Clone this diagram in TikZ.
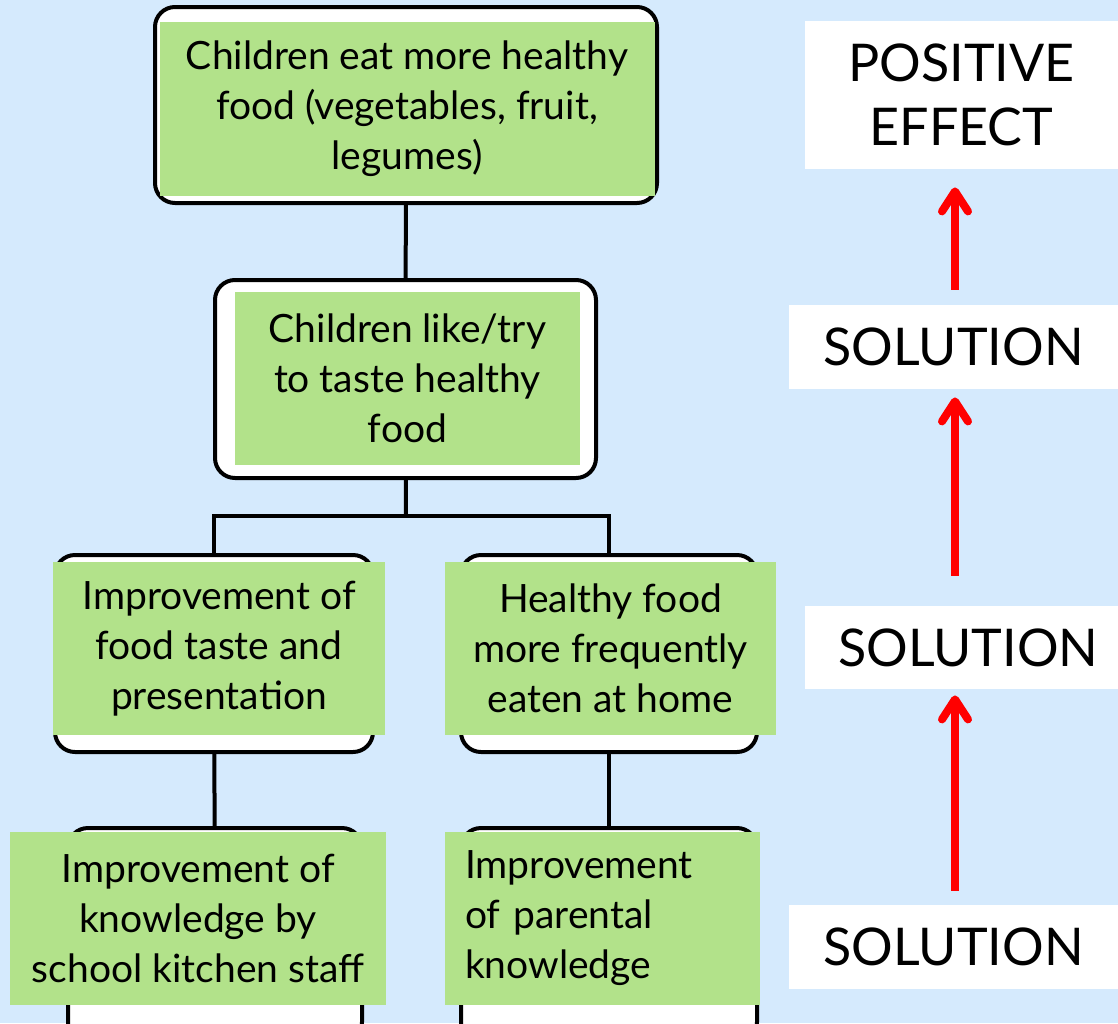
\documentclass[tikz,border=0pt]{standalone}
\usepackage{fontspec}
\setmainfont{Lato}
\usepackage{xcolor}
\usetikzlibrary{arrows.meta}

\definecolor{skyback}{HTML}{D5EAFD}
\definecolor{leafgreen}{HTML}{B2E28A}
\definecolor{arrowred}{HTML}{FF0000}

\tikzset{
  frame/.style={draw, line width=2pt, rounded corners=10pt, fill=white, inner sep=0pt},
  greenbox/.style={fill=leafgreen, inner sep=0pt, align=center,
    font=\fontsize{19.5}{25}\selectfont},
  label/.style={fill=white, inner sep=0pt, align=center,
    font=\fontsize{26}{32}\selectfont},
  link/.style={draw, line width=2pt},
  uparrow/.style={draw=arrowred, line width=4pt,
    -{Straight Barb[round, length=10pt, width=13pt]}}
}

\begin{document}
\begin{tikzpicture}[x=0.5pt, y=-0.5pt]

\path[fill=skyback, use as bounding box] (0,0) rectangle (1118,1023);

% tree of effects
\node[frame, minimum width=251pt, minimum height=98pt] (eat) at (406,105) {};
\node[greenbox, minimum width=247.5pt, minimum height=87pt] (eattext) at (407,109)
  {Children eat more healthy\\food (vegetables, fruit,\\legumes)};

\node[frame, minimum width=190.5pt, minimum height=99pt] (like) at (405.5,379) {};
\node[greenbox, minimum width=172.5pt, minimum height=86.5pt] (liketext) at (407.5,378.5)
  {Children like/try\\to taste healthy\\food};

\node[frame, minimum width=159pt, minimum height=98.5pt] (taste) at (214,653.5) {};
\node[greenbox, minimum width=166pt, minimum height=86.5pt] (tastetext) at (219,648.5)
  {Improvement of\\food taste and\\presentation};

\node[frame, minimum width=148pt, minimum height=98.5pt] (home) at (609,653.5) {};
\node[greenbox, minimum width=165.5pt, minimum height=86.5pt] (hometext) at (610.5,648.5)
  {Healthy food\\more frequently\\eaten at home};

\node[frame, minimum width=147pt, minimum height=107pt] (staff) at (215,935) {};
\node[greenbox, minimum width=188pt, minimum height=86.5pt] (stafftext) at (198,918.5)
  {Improvement of\\knowledge by\\school kitchen staff};

\node[frame, minimum width=148pt, minimum height=107pt] (parent) at (609,935) {};
\node[greenbox, minimum width=157.5pt, minimum height=86.5pt, align=left,
  text width=137.5pt] (parenttext) at (602.5,918.5)
  {Improvement\\of parental\\knowledge};

\coordinate (split) at (406,516);
\path[link] (eat) -- (like);
\path[link] (like) -- (split);
\path[link] (split) -| (taste.north);
\path[link] (split) -| (home.north);
\path[link] (taste) -- (staff);
\path[link] (home) -- (parent);

% right column
\node[label, minimum width=156.5pt, minimum height=74pt] (effect) at (961.5,95)
  {POSITIVE\\EFFECT};
\node[label, minimum width=164.5pt, minimum height=42pt] (sol1) at (953.5,347) {SOLUTION};
\node[label, minimum width=156.5pt, minimum height=41.5pt] (sol2) at (961.5,647.5) {\ SOLUTION};
\node[label, minimum width=164.5pt, minimum height=42pt] (sol3) at (953.5,947) {SOLUTION};

\coordinate (arrowx) at (955,0);
\path[uparrow, shorten <=7.5pt, shorten >=9pt] (sol1.north -| arrowx) -- (effect.south -| arrowx);
\path[uparrow, shorten <=15pt, shorten >=4pt] (sol2.north -| arrowx) -- (sol1.south -| arrowx);
\path[uparrow, shorten <=7pt, shorten >=3pt] (sol3.north -| arrowx) -- (sol2.south -| arrowx);

\end{tikzpicture}
\end{document}
